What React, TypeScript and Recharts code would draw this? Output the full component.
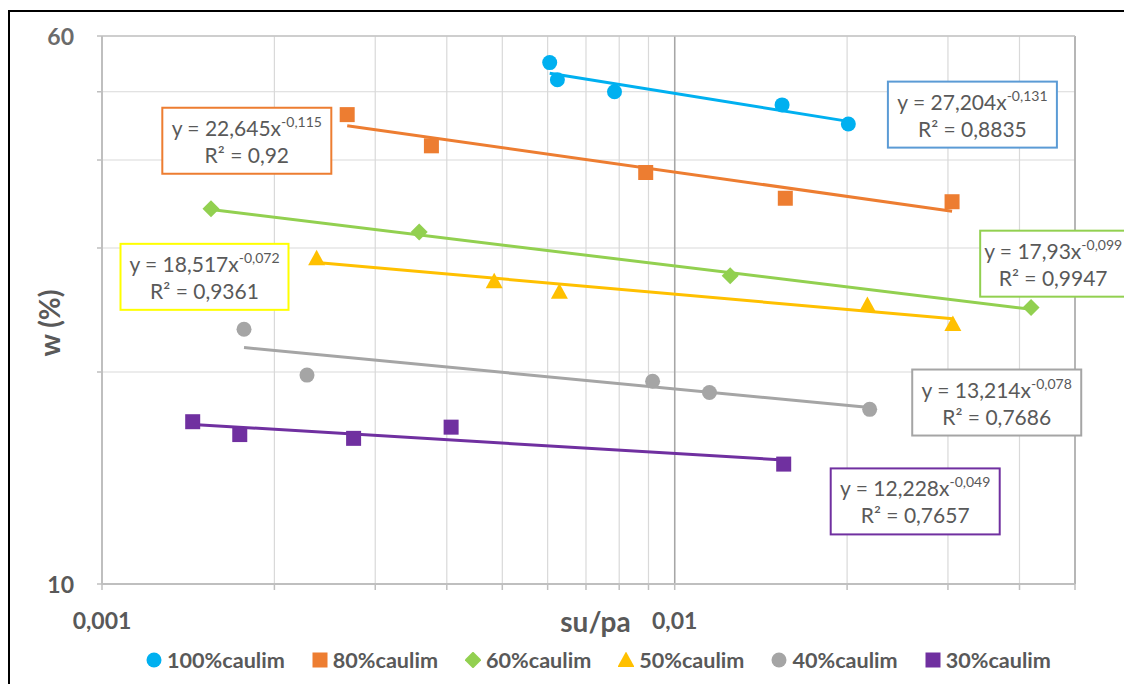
import React from 'react';
import { ScatterChart, Scatter, XAxis, YAxis, CartesianGrid, ReferenceLine, ReferenceDot } from 'recharts';

// ---- data ----
const seriesNames = ['100%caulim', '80%caulim', '60%caulim', '50%caulim', '40%caulim', '30%caulim'];

const s100x = [0.00605, 0.00624, 0.00785, 0.0154, 0.0201];
const s100y = [55.0, 52.0, 50.0, 47.9, 45.0];
const s80x = [0.00268, 0.00376, 0.0089, 0.0156, 0.0305];
const s80y = [46.4, 41.9, 38.4, 35.3, 34.9];
const s60x = [0.00155, 0.00358, 0.0125, 0.0419];
const s60y = [34.1, 31.6, 27.4, 24.7];
const s50x = [0.00237, 0.00484, 0.00629, 0.0217, 0.0306];
const s50y = [29.0, 26.9, 26.0, 24.9, 23.4];
const s40x = [0.00177, 0.00228, 0.00915, 0.0115, 0.0219];
const s40y = [23.0, 19.8, 19.4, 18.7, 17.7];
const s30x = [0.00144, 0.00174, 0.00275, 0.00407, 0.0155];
const s30y = [17.0, 16.3, 16.1, 16.7, 14.8];

// power trendlines y = a * x^b, as printed on the chart
const fitA = [27.204, 22.645, 17.93, 18.517, 13.214, 12.228];
const fitB = [-0.131, -0.115, -0.099, -0.072, -0.078, -0.049];
const fitR2 = [0.8835, 0.92, 0.9947, 0.9361, 0.7686, 0.7657];

const xTicks = [0.001, 0.002, 0.003, 0.004, 0.005, 0.006, 0.007, 0.008, 0.009, 0.01, 0.02, 0.03, 0.04, 0.05];
const xLabeled = [0.001, 0.01];
const yTicks = [10, 20, 30, 40, 50, 60];
const yLabeled = [10, 60];

// equation box anchors (data coordinates of box centres)
const eqX = [0.0331, 0.00179, 0.0458, 0.00151, 0.0365, 0.0263];
const eqY = [46.4, 42.6, 28.5, 27.3, 18.1, 13.1];

// ---- styles ----
const colors = ['#00B0F0', '#ED7D31', '#92D050', '#FFC000', '#A5A5A5', '#7030A0'];
const boxColors = ['#5B9BD5', '#ED7D31', '#92D050', '#FFFF00', '#A5A5A5', '#7030A0'];
const shapes = ['circle', 'square', 'diamond', 'triangle', 'circle', 'square'];
const boxWidths = [169, 169, 146, 168, 169, 169];
const TEXT = '#595959';
const FONT = 'Lato, "Open Sans", sans-serif';

const xs = [s100x, s80x, s60x, s50x, s40x, s30x];
const ys = [s100y, s80y, s60y, s50y, s40y, s30y];
const seriesData = xs.map((arr, i) => arr.map((x, j) => ({ x, y: ys[i][j] })));
const trendData = xs.map((arr, i) => {
  const lo = Math.min(...arr);
  const hi = Math.max(...arr);
  return [lo, hi].map((x) => ({ x, y: fitA[i] * Math.pow(x, fitB[i]) }));
});

const fmt = (v: number) => String(v).replace('.', ',');

function Marker({ kind, cx, cy, color, s = 7.5 }: any) {
  if (cx == null || cy == null) return <g />;
  if (kind === 'circle') return <circle cx={cx} cy={cy} r={s} fill={color} />;
  if (kind === 'square') return <rect x={cx - s} y={cy - s} width={2 * s} height={2 * s} fill={color} />;
  if (kind === 'diamond') {
    const d = s + 1;
    return <polygon points={`${cx},${cy - d} ${cx + d},${cy} ${cx},${cy + d} ${cx - d},${cy}`} fill={color} />;
  }
  const d = s + 1;
  return <polygon points={`${cx},${cy - d} ${cx + d},${cy + s - 0.5} ${cx - d},${cy + s - 0.5}`} fill={color} />;
}

function EqBox({ cx, cy, i }: any) {
  if (cx == null || cy == null) return <g />;
  const w = boxWidths[i];
  return (
    <g>
      <rect x={cx - w / 2} y={cy - 33} width={w} height={66} fill="#fff" stroke={boxColors[i]} strokeWidth={2} />
      <text x={cx} y={cy - 5} textAnchor="middle" fontFamily={FONT} fontSize={21} fill={TEXT}>
        <tspan>{`y = ${fmt(fitA[i])}x`}</tspan>
        <tspan dy={-9} fontSize={14}>{fmt(fitB[i])}</tspan>
      </text>
      <text x={cx} y={cy + 22} textAnchor="middle" fontFamily={FONT} fontSize={21} fill={TEXT}>
        {`R² = ${fmt(fitR2[i])}`}
      </text>
    </g>
  );
}

const XTick = (props: any) => {
  const { x, y, payload } = props;
  if (!xLabeled.includes(payload.value)) return <g />;
  return (
    <text x={x} y={y} textAnchor="middle" fontFamily={FONT} fontWeight="bold" fontSize={23} fill={TEXT}>
      {fmt(payload.value)}
    </text>
  );
};

const YTick = (props: any) => {
  const { x, y, payload } = props;
  if (!yLabeled.includes(payload.value)) return <g />;
  return (
    <text x={x} y={y} textAnchor="end" dominantBaseline="central" fontFamily={FONT} fontWeight="bold" fontSize={23}
      fill={payload.value === 60 ? '#6b6b6b' : TEXT}>
      {String(payload.value)}
    </text>
  );
};

const XTitle = (props: any) => {
  const vb = props.viewBox || {};
  return (
    <text x={vb.x + vb.width / 2 + 7} y={vb.y + 48} textAnchor="middle" fontFamily={FONT} fontWeight="bold" fontSize={28} fill={TEXT}>
      su/pa
    </text>
  );
};

const YTitle = (props: any) => {
  const vb = props.viewBox || {};
  const cx = vb.x + 7;
  const cy = vb.y + vb.height / 2 + 13;
  return (
    <text x={cx} y={cy} transform={`rotate(-90 ${cx} ${cy})`} textAnchor="middle" dominantBaseline="central"
      fontFamily={FONT} fontWeight="bold" fontSize={28} fill={TEXT}>
      w (%)
    </text>
  );
};

export default function App() {
  return (
    <div style={{ position: 'relative', width: 1124, height: 676, background: '#fff', fontFamily: FONT }}>
      <div style={{ position: 'absolute', left: 0, top: 2, right: 0, bottom: 0, borderTop: '2px solid #000', borderLeft: '2px solid #000', pointerEvents: 'none' }} />
      <ScatterChart width={1124} height={676} margin={{ top: 28, right: 57, bottom: 40, left: 34 }}>
        <CartesianGrid stroke="#d9d9d9" strokeWidth={1.2} />
        <XAxis
          dataKey="x"
          type="number"
          scale="log"
          domain={[0.001, 0.05]}
          allowDataOverflow
          ticks={xTicks}
          interval={0}
          height={60}
          tickSize={6}
          tickMargin={39}
          tick={<XTick />}
          axisLine={{ stroke: '#bfbfbf', strokeWidth: 2 }}
          tickLine={{ stroke: '#bfbfbf', strokeWidth: 1.5 }}
          label={{ content: <XTitle /> }}
        />
        <YAxis
          dataKey="y"
          type="number"
          scale="log"
          domain={[10, 60]}
          allowDataOverflow
          ticks={yTicks}
          interval={0}
          width={60}
          tickSize={5}
          tickMargin={23}
          tick={<YTick />}
          axisLine={{ stroke: '#bfbfbf', strokeWidth: 2 }}
          tickLine={{ stroke: '#bfbfbf', strokeWidth: 1.5 }}
          label={{ content: <YTitle /> }}
        />
        <ReferenceLine x={0.01} stroke="#a6a6a6" strokeWidth={1.5} />
        <ReferenceLine x={0.05} stroke="#a6a6a6" strokeWidth={1.5} />
        <ReferenceLine y={60} stroke="#c4c4c4" strokeWidth={1.5} />
        {trendData.map((d, i) => (
          <Scatter
            key={'t' + i}
            data={d}
            line={{ stroke: colors[i], strokeWidth: 3 }}
            lineType="joint"
            shape={() => <g />}
            isAnimationActive={false}
            legendType="none"
          />
        ))}
        {seriesData.map((d, i) => (
          <Scatter
            key={'s' + i}
            name={seriesNames[i]}
            data={d}
            shape={(p: any) => <Marker kind={shapes[i]} cx={p.cx} cy={p.cy} color={colors[i]} />}
            isAnimationActive={false}
          />
        ))}
        {eqX.map((x, i) => (
          <ReferenceDot
            key={'e' + i}
            x={x}
            y={eqY[i]}
            r={0}
            ifOverflow="visible"
            shape={(p: any) => <EqBox cx={p.cx} cy={p.cy} i={i} />}
          />
        ))}
      </ScatterChart>
      <div style={{ position: 'absolute', left: 138, top: 640, height: 24, display: 'flex', alignItems: 'center', gap: 27, fontWeight: 'bold', fontSize: 21.6, color: TEXT, whiteSpace: 'nowrap' }}>
        {seriesNames.map((n, i) => (
          <div key={n} style={{ display: 'flex', alignItems: 'center', gap: 5 }}>
            <svg width={16} height={16} style={{ display: 'block' }}>
              <Marker kind={shapes[i]} cx={8} cy={8} color={colors[i]} s={7.5} />
            </svg>
            <span>{n}</span>
          </div>
        ))}
      </div>
    </div>
  );
}
